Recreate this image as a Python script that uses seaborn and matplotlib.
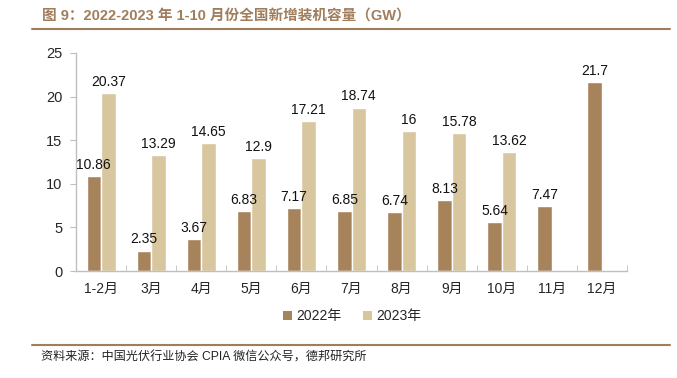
import matplotlib
matplotlib.use("Agg")
import matplotlib.pyplot as plt
from matplotlib.lines import Line2D
from matplotlib.patches import Patch
import seaborn as sns
import numpy as np
import pandas as pd

categories = ["1-2月", "3月", "4月", "5月", "6月", "7月", "8月", "9月", "10月", "11月", "12月"]
values_2022 = [10.86, 2.35, 3.67, 6.83, 7.17, 6.85, 6.74, 8.13, 5.64, 7.47, 21.7]
values_2023 = [20.37, 13.29, 14.65, 12.9, 17.21, 18.74, 16, 15.78, 13.62, np.nan, np.nan]
series_names = ["2022年", "2023年"]
label_2022 = ["10.86", "2.35", "3.67", "6.83", "7.17", "6.85", "6.74", "8.13", "5.64", "7.47", "21.7"]
label_2023 = ["20.37", "13.29", "14.65", "12.9", "17.21", "18.74", "16", "15.78", "13.62", "", ""]

sns.set_style("white")
plt.rcParams["font.family"] = ["Liberation Sans", "Noto Sans CJK SC", "DejaVu Sans"]

df = pd.DataFrame({
    "month": categories * 2,
    "series": [series_names[0]] * len(categories) + [series_names[1]] * len(categories),
    "value": values_2022 + values_2023,
})

colors = ["#A6835B", "#D8C69E"]
fig = plt.figure(figsize=(6.77, 3.78), dpi=100)
ax = fig.add_axes([0.1123, 0.283, 0.8139, 0.577])
sns.barplot(data=df, x="month", y="value", hue="series", palette=colors,
            width=0.58, ax=ax, legend=False, saturation=1)

labels_all = [label_2022, label_2023]
for cont, labs in zip(ax.containers, labels_all):
    for bar, lab in zip(cont.patches, labs):
        if bar is None or lab == "":
            continue
        ax.annotate(lab, (bar.get_x() + bar.get_width() / 2, bar.get_height()),
                    xytext=(0, 3), textcoords="offset points", ha="center", va="bottom",
                    fontsize=10, color="#111111")

ax.set_ylim(0, 25)
ax.set_xlim(-0.5, len(categories) - 0.5)
ax.set_yticks([0, 5, 10, 15, 20, 25])
ax.set_xlabel("")
ax.set_ylabel("")
for s in ["top", "right"]:
    ax.spines[s].set_visible(False)
for s in ["left", "bottom"]:
    ax.spines[s].set_color("#BFBFBF")
    ax.spines[s].set_linewidth(1.0)
ax.tick_params(axis="y", direction="out", length=4, color="#BFBFBF", labelsize=10.5, pad=6, left=True)
ax.tick_params(axis="x", which="major", length=0, labelsize=10, pad=8)
ax.set_xticks(np.arange(-0.5, len(categories) + 0.5, 1), minor=True)
ax.tick_params(axis="x", which="minor", direction="in", length=4, color="#BFBFBF", bottom=True)

handles = [Patch(facecolor=c, edgecolor="none") for c in colors]
fig.legend(handles, series_names, loc="center", bbox_to_anchor=(0.52, 0.163), ncol=2,
           frameon=False, fontsize=10, handlelength=0.7, handleheight=0.7,
           handletextpad=0.3, columnspacing=1.5)

title_color = "#A07D5C"
fig.text(0.062, 0.960, "图 9：2022-2023 年 1-10 月份全国新增装机容量（GW）", fontsize=10.5,
         fontweight="bold", color=title_color, ha="left", va="center")
fig.add_artist(Line2D([0.047, 0.99], [0.923, 0.923], color=title_color, linewidth=1.5,
                      transform=fig.transFigure))
fig.add_artist(Line2D([0.047, 0.99], [0.087, 0.087], color=title_color, linewidth=1.5,
                      transform=fig.transFigure))
fig.text(0.060, 0.055, "资料来源：中国光伏行业协会 CPIA 微信公众号，德邦研究所", fontsize=8.7,
         color="#222222", ha="left", va="center")

fig.savefig("out.png", dpi=100)
